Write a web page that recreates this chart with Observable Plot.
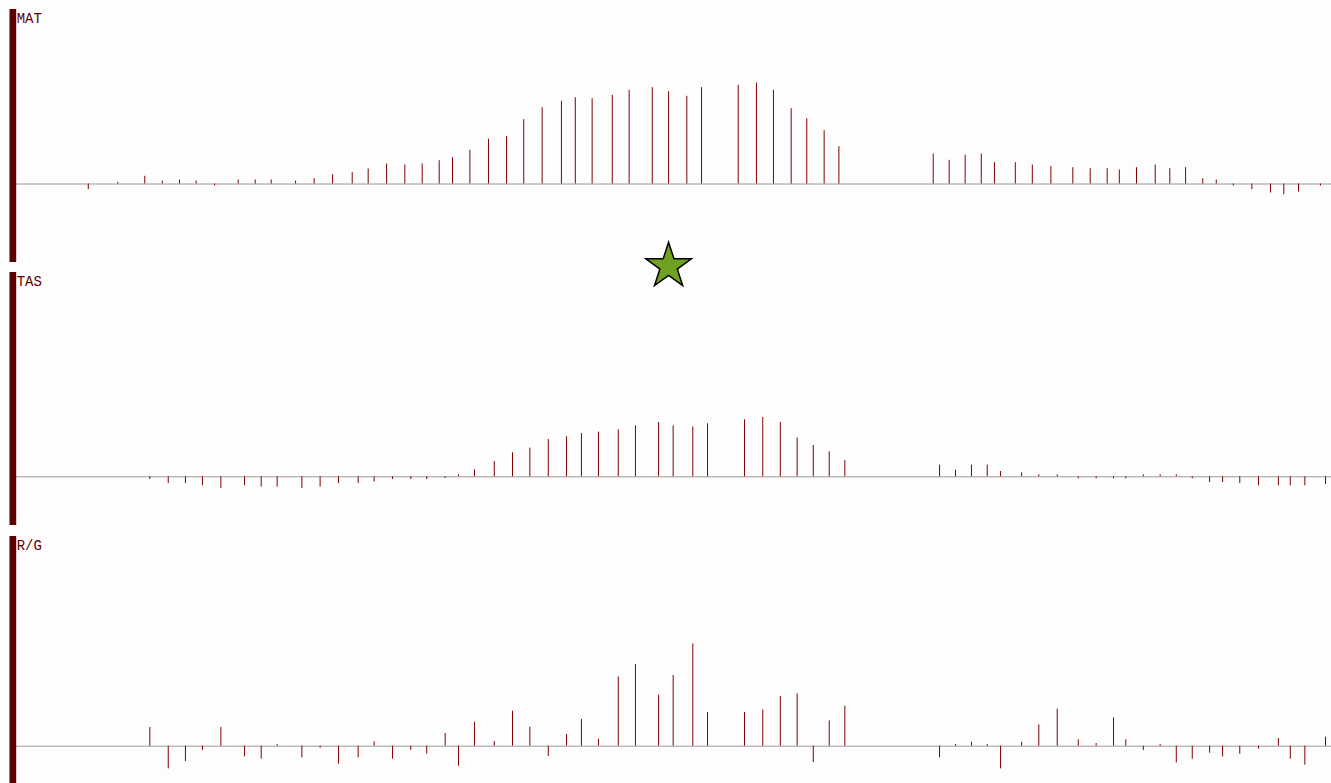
<!DOCTYPE html>
<html>
<head>
<meta charset="utf-8">
<script src="https://cdn.jsdelivr.net/npm/d3@7"></script>
<script src="https://cdn.jsdelivr.net/npm/@observablehq/plot@0.6"></script>
<style>
  html, body { margin: 0; padding: 0; background: #fdfdfd; }
  #chart { position: relative; width: 1331px; height: 783px; overflow: hidden; }
  #chart svg { position: absolute; left: 0; }
</style>
</head>
<body>
<div id="chart"></div>
<script>
// Sample times (s) of the MAT trace
const matTime = [
  4.11, 5.79, 7.33, 8.33, 9.31, 10.26, 11.31, 12.66, 13.63, 14.54, 15.93, 16.99, 18.04, 19.16, 20.07,
  21.12, 22.16, 23.15, 24.12, 24.88, 25.87, 26.93, 27.96, 28.94, 29.99, 31.09, 31.88, 32.84, 33.99,
  34.95, 36.27, 37.20, 38.24, 39.08, 41.17, 42.21, 43.18, 44.19, 45.08, 46.07, 46.91,
  52.29, 53.20, 54.11, 55.03, 55.78, 56.97, 57.94, 59.00, 60.25, 61.24, 62.21, 62.90, 63.88, 64.95,
  65.78, 66.68, 67.66, 68.43, 69.40, 70.46, 71.52, 72.28, 73.12, 74.37
];
const matValue = [
  -0.57, 0.17, 0.77, 0.30, 0.40, 0.30, -0.20, 0.40, 0.40, 0.40, 0.30, 0.53, 0.93, 1.13, 1.50,
  2.00, 1.90, 2.00, 2.33, 2.63, 3.37, 4.47, 4.73, 6.43, 7.63, 8.27, 8.63, 8.53, 8.87,
  9.37, 9.63, 9.23, 8.77, 9.63, 9.87, 10.10, 9.37, 7.53, 6.53, 5.33, 3.73,
  3.00, 2.37, 2.87, 3.00, 2.13, 2.13, 1.90, 1.73, 1.63, 1.53, 1.53, 1.40, 1.63, 1.90,
  1.53, 1.63, 0.53, 0.40, -0.20, -0.57, -0.90, -1.07, -0.80, -0.20
];

// Sample times (s) shared by the TAS and R/G traces
const sampleTime = [
  7.62, 8.67, 9.65, 10.62, 11.67, 13.02, 13.97, 14.88, 16.29, 17.33, 18.38, 19.50, 20.41, 21.46,
  22.50, 23.41, 24.46, 25.22, 26.13, 27.26, 28.30, 29.29, 30.34, 31.38, 32.23, 33.20, 34.33, 35.31,
  36.63, 37.46, 38.58, 39.42, 41.53, 42.57, 43.57, 44.53, 45.45, 46.36, 47.25,
  52.65, 53.56, 54.47, 55.37, 56.13, 57.33, 58.31, 59.36, 60.56, 61.58, 62.57, 63.27, 64.27, 65.23,
  66.15, 67.06, 68.05, 68.79, 69.77, 70.84, 71.97, 72.65, 73.48, 74.66
];
const tasValue = [
  -0.27, -0.67, -0.67, -0.90, -1.17, -0.90, -1.03, -1.03, -1.17, -1.03, -0.67, -0.67, -0.53, -0.27,
  -0.27, -0.27, -0.17, 0.20, 0.70, 1.53, 2.40, 2.87, 3.73, 4.00, 4.33, 4.47, 4.70, 5.10,
  5.43, 5.10, 4.97, 5.30, 5.70, 5.93, 5.43, 3.87, 3.13, 2.50, 1.63,
  1.17, 0.67, 1.17, 1.17, 0.53, 0.40, 0.20, 0.20, -0.20, -0.20, -0.20, -0.20, 0.20, 0.20,
  0.20, -0.20, -0.57, -0.57, -0.67, -0.90, -0.90, -0.90, -0.90, -0.77
];
const rgValue = [
  1.87, -2.27, -1.53, -0.43, 1.87, -1.07, -1.30, 0.17, -1.17, -0.20, -1.80, -1.17, 0.43, -1.30,
  -0.43, -0.80, 1.27, -2.00, 2.40, 0.47, 3.50, 1.90, -1.03, 1.17, 2.67, 0.70, 6.93, 8.17,
  5.10, 7.07, 10.23, 3.37, 3.37, 3.63, 4.97, 5.23, -1.63, 2.53, 4.00,
  -1.17, 0.17, 0.40, 0.17, -2.27, 0.40, 2.13, 3.70, 0.63, 0.27, 2.83, 0.63, -0.43, 0.17,
  -1.67, -1.30, -0.70, -1.07, -0.80, -0.30, 0.77, -1.30, -1.90, 0.90
];

// Selected instant, flagged with a star between the first two traces
const markerTime = 37.2;

const traceLabels = ["MAT", "TAS", "R/G"];

const panels = [
  {label: traceLabels[0], time: matTime,    value: matValue, yDomain: [-7.85, 17.45], top: 9},
  {label: traceLabels[1], time: sampleTime, value: tasValue, yDomain: [-4.87, 20.43], top: 272, marker: true},
  {label: traceLabels[2], time: sampleTime, value: rgValue,  yDomain: [-4.33, 20.97], top: 536}
];

const dark = "#600000";
const spike = "#800000";
const chart = document.getElementById("chart");

for (const p of panels) {
  const rows = p.time.map((t, i) => ({t, v: p.value[i]}));
  const marks = [
    Plot.ruleY([0], {stroke: "#9a9a9a", strokeWidth: 1}),
    Plot.ruleX(rows, {x: "t", y1: 0, y2: "v", stroke: spike, strokeWidth: 1}),
    Plot.ruleX([0], {stroke: dark, strokeWidth: 6.7, dx: -3.35}),
    Plot.text([p.label], {
      frameAnchor: "top-left", text: d => d, textAnchor: "start", lineAnchor: "top",
      dx: 0.5, dy: 4, fill: dark, fontFamily: "Liberation Mono, monospace", fontSize: 14
    })
  ];
  if (p.marker) {
    marks.push(Plot.dot([markerTime], {
      x: d => d, frameAnchor: "top", dy: -6.3, r: 14.3, symbol: "star",
      fill: "#70a020", stroke: "#000", strokeWidth: 1.5
    }));
  }
  const svg = Plot.plot({
    width: 1331, height: 253,
    marginLeft: 15.7, marginRight: 0, marginTop: 0, marginBottom: 0,
    x: {domain: [0, 75], axis: null},
    y: {domain: p.yDomain, axis: null},
    style: {background: "transparent", overflow: "visible"},
    marks
  });
  svg.style.top = p.top + "px";
  chart.appendChild(svg);
}
</script>
</body>
</html>
